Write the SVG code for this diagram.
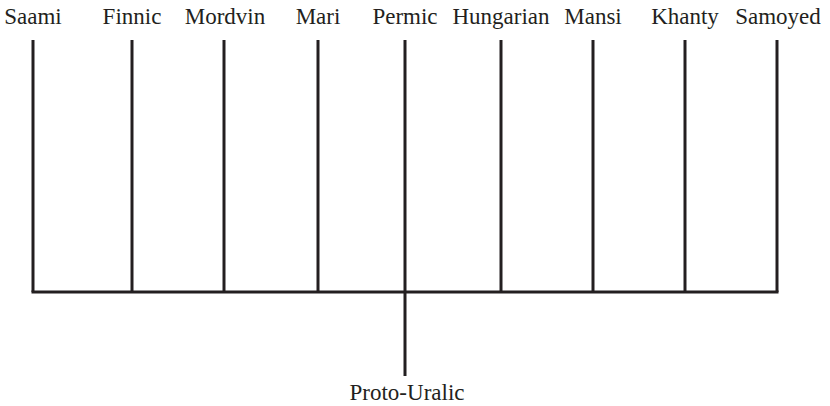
<svg xmlns="http://www.w3.org/2000/svg" width="830" height="406" viewBox="0 0 830 406">
<style>
text{font-family:"Liberation Serif","Times New Roman",serif;font-size:23px;fill:#231f20;text-anchor:middle}
line{stroke:#231f20;stroke-width:3}
</style>
<rect width="830" height="406" fill="#fff"/>
<g id="connectors">
<line x1="33" y1="40" x2="33" y2="292"/>
<line x1="132" y1="40" x2="132" y2="292"/>
<line x1="224" y1="40" x2="224" y2="292"/>
<line x1="318" y1="40" x2="318" y2="292"/>
<line x1="405" y1="40" x2="405" y2="376"/>
<line x1="501" y1="40" x2="501" y2="292"/>
<line x1="593" y1="40" x2="593" y2="292"/>
<line x1="685" y1="40" x2="685" y2="292"/>
<line x1="777" y1="40" x2="777" y2="292"/>
<line x1="31.5" y1="292" x2="778.5" y2="292"/>
</g>
<g id="saami"><text x="33" y="24">Saami</text></g>
<g id="finnic"><text x="132" y="24">Finnic</text></g>
<g id="mordvin"><text x="225" y="24">Mordvin</text></g>
<g id="mari"><text x="318" y="24">Mari</text></g>
<g id="permic"><text x="405" y="24">Permic</text></g>
<g id="hungarian"><text x="501" y="24">Hungarian</text></g>
<g id="mansi"><text x="593" y="24">Mansi</text></g>
<g id="khanty"><text x="685" y="24">Khanty</text></g>
<g id="samoyed"><text x="778" y="24">Samoyed</text></g>
<g id="proto-uralic"><text x="407" y="400">Proto-Uralic</text></g>
</svg>
